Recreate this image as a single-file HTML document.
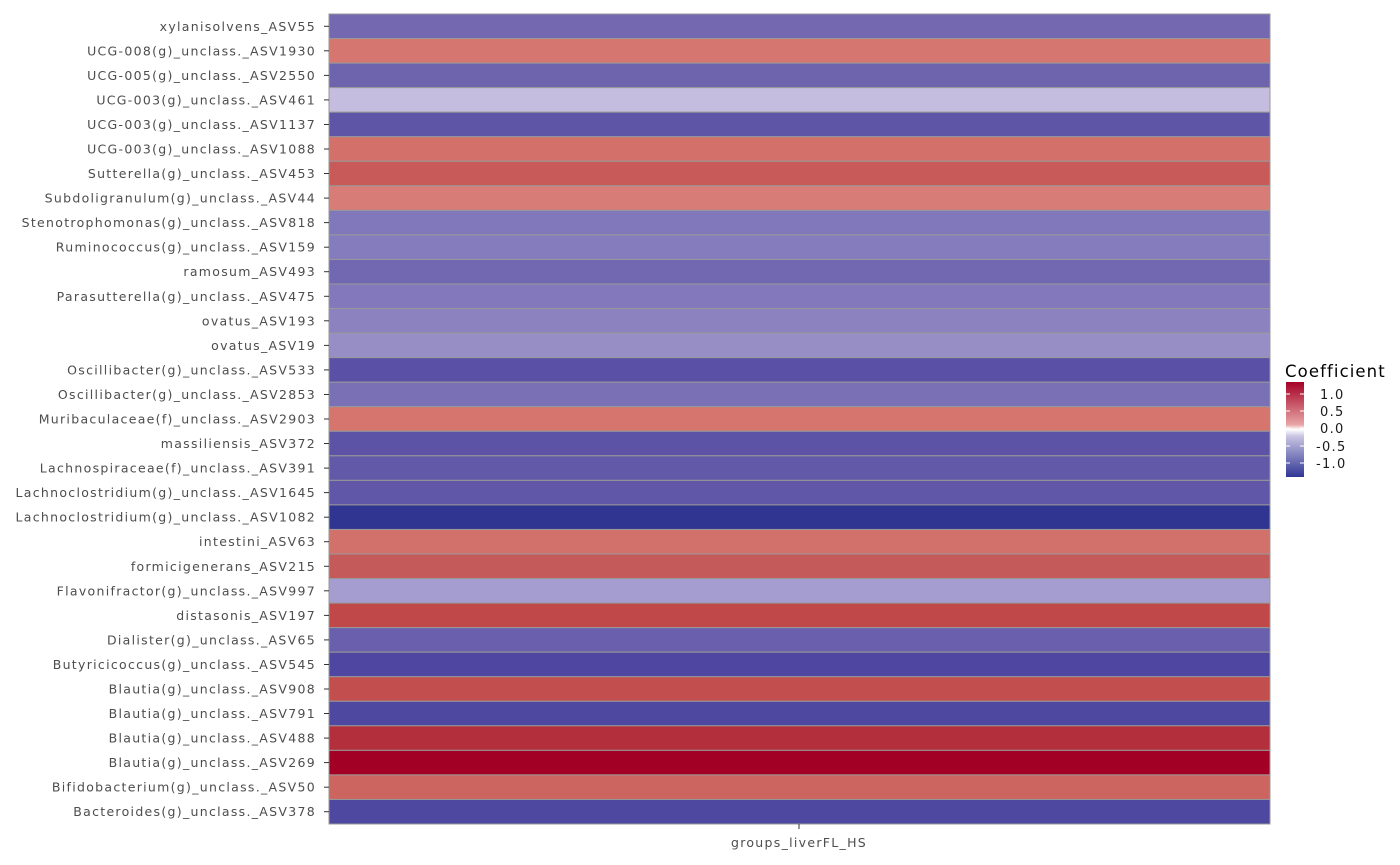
<!DOCTYPE html><html><head><style>body{margin:0;background:#fff}svg{display:block}text{font-family:"DejaVu Sans","Liberation Sans",sans-serif;letter-spacing:1.3px}</style></head><body>
<svg width="1400" height="865" xmlns="http://www.w3.org/2000/svg">
<defs><linearGradient id="g" x1="0" y1="0" x2="0" y2="1"><stop offset="0" stop-color="#a50026"/><stop offset="0.45" stop-color="#e8a6a6"/><stop offset="0.5" stop-color="#ffffff"/><stop offset="0.57" stop-color="#c8c4e2"/><stop offset="1" stop-color="#313695"/></linearGradient></defs>
<g stroke="#999" stroke-width="1">
<rect x="329" y="14.00" width="941" height="24.55" fill="#7468b0"/>
<rect x="329" y="38.55" width="941" height="24.55" fill="#d57770"/>
<rect x="329" y="63.09" width="941" height="24.55" fill="#6e64ae"/>
<rect x="329" y="87.64" width="941" height="24.55" fill="#c4bddf"/>
<rect x="329" y="112.18" width="941" height="24.55" fill="#5e55a6"/>
<rect x="329" y="136.73" width="941" height="24.55" fill="#d3706a"/>
<rect x="329" y="161.27" width="941" height="24.55" fill="#c85a5a"/>
<rect x="329" y="185.82" width="941" height="24.55" fill="#d77c76"/>
<rect x="329" y="210.36" width="941" height="24.55" fill="#8178bb"/>
<rect x="329" y="234.91" width="941" height="24.55" fill="#857cbe"/>
<rect x="329" y="259.45" width="941" height="24.55" fill="#7268b2"/>
<rect x="329" y="284.00" width="941" height="24.55" fill="#8278bb"/>
<rect x="329" y="308.55" width="941" height="24.55" fill="#8b82bf"/>
<rect x="329" y="333.09" width="941" height="24.55" fill="#978ec6"/>
<rect x="329" y="357.64" width="941" height="24.55" fill="#5a50a5"/>
<rect x="329" y="382.18" width="941" height="24.55" fill="#7a70b6"/>
<rect x="329" y="406.73" width="941" height="24.55" fill="#d5756e"/>
<rect x="329" y="431.27" width="941" height="24.55" fill="#5c53a6"/>
<rect x="329" y="455.82" width="941" height="24.55" fill="#6259a9"/>
<rect x="329" y="480.36" width="941" height="24.55" fill="#6057a8"/>
<rect x="329" y="504.91" width="941" height="24.55" fill="#2f3590"/>
<rect x="329" y="529.45" width="941" height="24.55" fill="#d2706b"/>
<rect x="329" y="554.00" width="941" height="24.55" fill="#c55a5a"/>
<rect x="329" y="578.55" width="941" height="24.55" fill="#a59dcf"/>
<rect x="329" y="603.09" width="941" height="24.55" fill="#c04848"/>
<rect x="329" y="627.64" width="941" height="24.55" fill="#6a5fac"/>
<rect x="329" y="652.18" width="941" height="24.55" fill="#4e46a0"/>
<rect x="329" y="676.73" width="941" height="24.55" fill="#c24f4e"/>
<rect x="329" y="701.27" width="941" height="24.55" fill="#4f48a0"/>
<rect x="329" y="725.82" width="941" height="24.55" fill="#b22f3b"/>
<rect x="329" y="750.36" width="941" height="24.55" fill="#a30025"/>
<rect x="329" y="774.91" width="941" height="24.55" fill="#cc6460"/>
<rect x="329" y="799.45" width="941" height="24.55" fill="#4f48a0"/>
</g>
<g stroke="#333" stroke-width="1">
<line x1="324" x2="329" y1="26.3" y2="26.3"/><line x1="324" x2="329" y1="50.8" y2="50.8"/><line x1="324" x2="329" y1="75.4" y2="75.4"/><line x1="324" x2="329" y1="99.9" y2="99.9"/><line x1="324" x2="329" y1="124.5" y2="124.5"/><line x1="324" x2="329" y1="149.0" y2="149.0"/><line x1="324" x2="329" y1="173.5" y2="173.5"/><line x1="324" x2="329" y1="198.1" y2="198.1"/><line x1="324" x2="329" y1="222.6" y2="222.6"/><line x1="324" x2="329" y1="247.2" y2="247.2"/><line x1="324" x2="329" y1="271.7" y2="271.7"/><line x1="324" x2="329" y1="296.3" y2="296.3"/><line x1="324" x2="329" y1="320.8" y2="320.8"/><line x1="324" x2="329" y1="345.4" y2="345.4"/><line x1="324" x2="329" y1="369.9" y2="369.9"/><line x1="324" x2="329" y1="394.5" y2="394.5"/><line x1="324" x2="329" y1="419.0" y2="419.0"/><line x1="324" x2="329" y1="443.5" y2="443.5"/><line x1="324" x2="329" y1="468.1" y2="468.1"/><line x1="324" x2="329" y1="492.6" y2="492.6"/><line x1="324" x2="329" y1="517.2" y2="517.2"/><line x1="324" x2="329" y1="541.7" y2="541.7"/><line x1="324" x2="329" y1="566.3" y2="566.3"/><line x1="324" x2="329" y1="590.8" y2="590.8"/><line x1="324" x2="329" y1="615.4" y2="615.4"/><line x1="324" x2="329" y1="639.9" y2="639.9"/><line x1="324" x2="329" y1="664.5" y2="664.5"/><line x1="324" x2="329" y1="689.0" y2="689.0"/><line x1="324" x2="329" y1="713.5" y2="713.5"/><line x1="324" x2="329" y1="738.1" y2="738.1"/><line x1="324" x2="329" y1="762.6" y2="762.6"/><line x1="324" x2="329" y1="787.2" y2="787.2"/><line x1="324" x2="329" y1="811.7" y2="811.7"/>
</g>
<g font-size="12.5" fill="#4d4d4d" text-anchor="end">
<text x="316" y="30.8">xylanisolvens_ASV55</text>
<text x="316" y="55.3">UCG-008(g)_unclass._ASV1930</text>
<text x="316" y="79.9">UCG-005(g)_unclass._ASV2550</text>
<text x="316" y="104.4">UCG-003(g)_unclass._ASV461</text>
<text x="316" y="129.0">UCG-003(g)_unclass._ASV1137</text>
<text x="316" y="153.5">UCG-003(g)_unclass._ASV1088</text>
<text x="316" y="178.0">Sutterella(g)_unclass._ASV453</text>
<text x="316" y="202.6">Subdoligranulum(g)_unclass._ASV44</text>
<text x="316" y="227.1">Stenotrophomonas(g)_unclass._ASV818</text>
<text x="316" y="251.7">Ruminococcus(g)_unclass._ASV159</text>
<text x="316" y="276.2">ramosum_ASV493</text>
<text x="316" y="300.8">Parasutterella(g)_unclass._ASV475</text>
<text x="316" y="325.3">ovatus_ASV193</text>
<text x="316" y="349.9">ovatus_ASV19</text>
<text x="316" y="374.4">Oscillibacter(g)_unclass._ASV533</text>
<text x="316" y="399.0">Oscillibacter(g)_unclass._ASV2853</text>
<text x="316" y="423.5">Muribaculaceae(f)_unclass._ASV2903</text>
<text x="316" y="448.0">massiliensis_ASV372</text>
<text x="316" y="472.6">Lachnospiraceae(f)_unclass._ASV391</text>
<text x="316" y="497.1">Lachnoclostridium(g)_unclass._ASV1645</text>
<text x="316" y="521.7">Lachnoclostridium(g)_unclass._ASV1082</text>
<text x="316" y="546.2">intestini_ASV63</text>
<text x="316" y="570.8">formicigenerans_ASV215</text>
<text x="316" y="595.3">Flavonifractor(g)_unclass._ASV997</text>
<text x="316" y="619.9">distasonis_ASV197</text>
<text x="316" y="644.4">Dialister(g)_unclass._ASV65</text>
<text x="316" y="669.0">Butyricicoccus(g)_unclass._ASV545</text>
<text x="316" y="693.5">Blautia(g)_unclass._ASV908</text>
<text x="316" y="718.0">Blautia(g)_unclass._ASV791</text>
<text x="316" y="742.6">Blautia(g)_unclass._ASV488</text>
<text x="316" y="767.1">Blautia(g)_unclass._ASV269</text>
<text x="316" y="791.7">Bifidobacterium(g)_unclass._ASV50</text>
<text x="316" y="816.2">Bacteroides(g)_unclass._ASV378</text>
</g>
<rect x="1286" y="382" width="18" height="95" fill="url(#g)"/>
<g stroke="#fff" stroke-width="1"><line x1="1286" y1="394" x2="1290" y2="394"/><line x1="1300" y1="394" x2="1304" y2="394"/><line x1="1286" y1="411" x2="1290" y2="411"/><line x1="1300" y1="411" x2="1304" y2="411"/><line x1="1286" y1="428" x2="1290" y2="428"/><line x1="1300" y1="428" x2="1304" y2="428"/><line x1="1286" y1="446" x2="1290" y2="446"/><line x1="1300" y1="446" x2="1304" y2="446"/><line x1="1286" y1="463" x2="1290" y2="463"/><line x1="1300" y1="463" x2="1304" y2="463"/></g>
<text x="1285" y="377" font-size="16.5" fill="#000" style="letter-spacing:1.1px">Coefficient</text>
<g font-size="13" fill="#1a1a1a"><text x="1320" y="399">1.0</text><text x="1320" y="416">0.5</text><text x="1320" y="433">0.0</text><text x="1316" y="451">-0.5</text><text x="1316" y="468">-1.0</text></g>
<line x1="799" y1="824" x2="799" y2="829" stroke="#333"/>
<text x="799" y="847" font-size="12.5" fill="#4d4d4d" text-anchor="middle">groups_liverFL_HS</text>
</svg></body></html>
